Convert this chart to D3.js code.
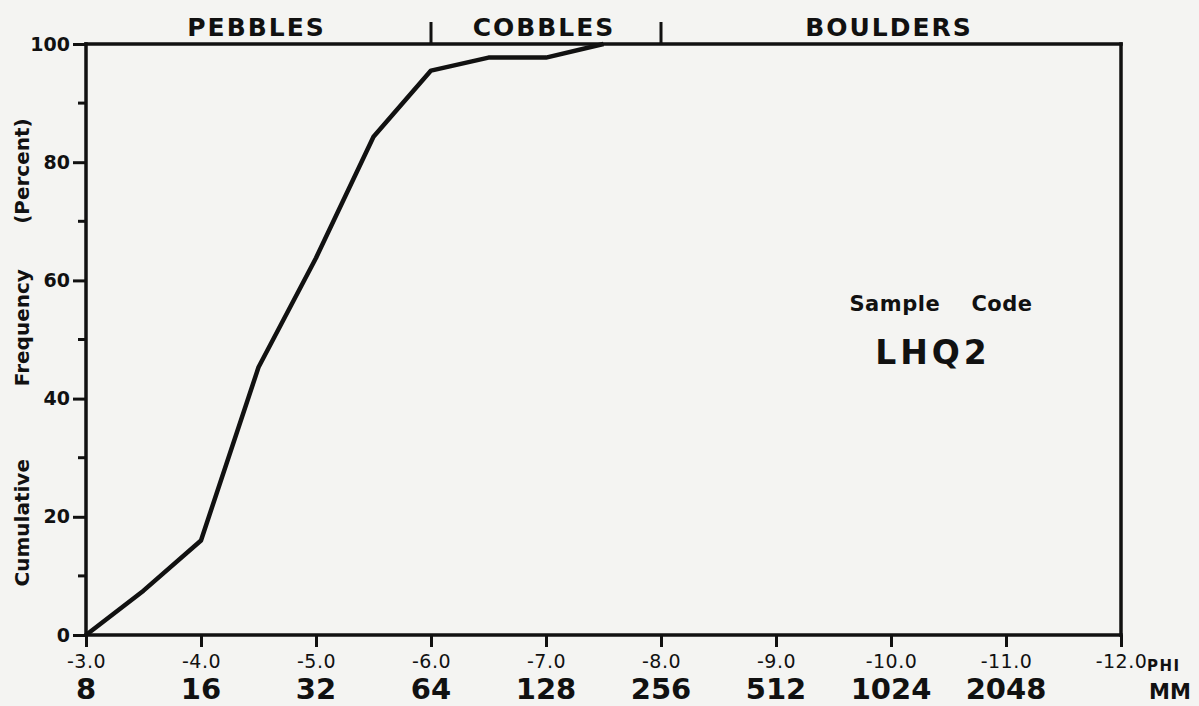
<!DOCTYPE html>
<html>
<head>
<meta charset="utf-8">
<script src="https://cdn.jsdelivr.net/npm/d3@7"></script>
<style>
  html, body { margin: 0; padding: 0; background: #f4f4f2; }
  svg { display: block; }
  text { font-family: "DejaVu Sans", sans-serif; fill: #111; }
</style>
</head>
<body>
<svg id="chart" width="1199" height="706"></svg>
<script>
// grain size in phi units and cumulative frequency (%)
const phi = [-3.0, -3.5, -4.0, -4.5, -5.0, -5.5, -6.0, -6.5, -7.0, -7.5];
const cumPct = [0, 7.5, 16, 45.3, 63.8, 84.3, 95.5, 97.7, 97.7, 100];

const phiTicks = [-3, -4, -5, -6, -7, -8, -9, -10, -11, -12];
const mmLabels = ['8', '16', '32', '64', '128', '256', '512', '1024', '2048'];
const yMajor = [0, 20, 40, 60, 80, 100];
const yMinor = [10, 30, 50, 70, 90];
const classBreaks = [-6, -8];
const classNames = [
  {name: 'PEBBLES', at: -4.5},
  {name: 'COBBLES', at: -7.0},
  {name: 'BOULDERS', at: -10.0}
];
// y title words and the percent value each is centred on
const titleWords = [
  {word: 'Cumulative', at: 19},
  {word: 'Frequency', at: 52},
  {word: '(Percent)', at: 78.5}
];

const ink = '#111';
const svg = d3.select('#chart');

const x = d3.scaleLinear().domain([-3, -12]).range([86, 1121]);
const y = d3.scaleLinear().domain([0, 100]).range([635, 44]);

const g = svg.append('g');

// frame: left, top, right, bottom
const frame = [
  [x(-3), y(100), x(-3), y(0)],
  [x(-3), y(100), x(-12), y(100)],
  [x(-12), y(100), x(-12), y(0)],
  [x(-3), y(0), x(-12), y(0)]
];
g.selectAll('.frame').data(frame).join('line').attr('class', 'frame')
    .attr('x1', d => d[0]).attr('y1', d => d[1]).attr('x2', d => d[2]).attr('y2', d => d[3])
    .attr('stroke', ink).attr('stroke-width', 3.5).attr('stroke-linecap', 'square');

// bottom axis (phi)
const xAxis = d3.axisBottom(x).tickValues(phiTicks).tickSize(12).tickPadding(5)
    .tickFormat(d => d.toFixed(1));
const gx = g.append('g').attr('transform', `translate(0,${y(0)})`).call(xAxis);
gx.select('.domain').remove();
gx.selectAll('.tick line').attr('stroke', ink).attr('stroke-width', 3);
gx.selectAll('.tick text').style('font-size', '19px').style('letter-spacing', '0.5px')
    .attr('dy', '0.85em');

g.append('text').attr('x', 1147).attr('y', 671)
    .style('font-size', '15px').style('font-weight', 'bold').style('letter-spacing', '1.5px')
    .text('PHI');

// mm row
g.selectAll('.mm').data(mmLabels).join('text').attr('class', 'mm')
    .attr('x', (d, i) => x(phiTicks[i])).attr('y', 699)
    .attr('text-anchor', 'middle')
    .style('font-size', '29px').style('font-weight', 'bold')
    .text(d => d);
g.append('text').attr('x', 1149).attr('y', 699)
    .style('font-size', '21px').style('font-weight', 'bold')
    .text('MM');

// left axis
const yAxis = d3.axisLeft(y).tickValues(yMajor).tickSize(13).tickPadding(3);
const gy = g.append('g').attr('transform', `translate(${x(-3)},0)`).call(yAxis);
gy.select('.domain').remove();
gy.selectAll('.tick line').attr('stroke', ink).attr('stroke-width', 3);
gy.selectAll('.tick text').style('font-size', '19px').style('font-weight', 'bold');

g.selectAll('.minor').data(yMinor).join('line').attr('class', 'minor')
    .attr('x1', x(-3) - 8).attr('x2', x(-3))
    .attr('y1', d => y(d)).attr('y2', d => y(d))
    .attr('stroke', ink).attr('stroke-width', 3);

g.selectAll('.ytitle').data(titleWords).join('text').attr('class', 'ytitle')
    .attr('transform', d => `translate(29,${y(d.at)}) rotate(-90)`)
    .attr('text-anchor', 'middle')
    .style('font-size', '20px').style('font-weight', 'bold')
    .text(d => d.word);

// top class breaks and names
g.selectAll('.brk').data(classBreaks).join('line').attr('class', 'brk')
    .attr('x1', d => x(d)).attr('x2', d => x(d))
    .attr('y1', y(100)).attr('y2', y(100) - 22)
    .attr('stroke', ink).attr('stroke-width', 3);
g.selectAll('.cls').data(classNames).join('text').attr('class', 'cls')
    .attr('x', d => x(d.at) - 2).attr('y', 36)
    .attr('text-anchor', 'middle')
    .style('font-size', '25px').style('font-weight', 'bold').style('letter-spacing', '2px')
    .text(d => d.name);

// sample label
g.append('text').attr('x', 941).attr('y', 311).attr('text-anchor', 'middle')
    .style('font-size', '21px').style('font-weight', 'bold').style('letter-spacing', '0.5px')
    .style('white-space', 'pre').attr('xml:space', 'preserve')
    .text('Sample    Code');
g.append('text').attr('x', 933).attr('y', 364).attr('text-anchor', 'middle')
    .style('font-size', '33px').style('font-weight', 'bold').style('letter-spacing', '4px')
    .text('LHQ2');

// cumulative curve
const line = d3.line().x((d, i) => x(phi[i])).y(d => y(d));
g.append('path').datum(cumPct).attr('d', line)
    .attr('fill', 'none').attr('stroke', ink).attr('stroke-width', 4.5)
    .attr('stroke-linejoin', 'round');
</script>
</body>
</html>
